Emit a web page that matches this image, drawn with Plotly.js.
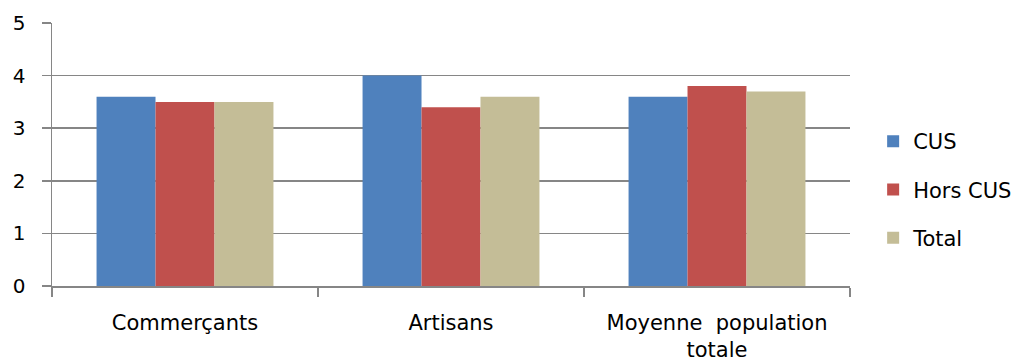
<!DOCTYPE html>
<html>
<head>
<meta charset="utf-8">
<script src="https://cdn.plot.ly/plotly-3.0.1.min.js"></script>
<style>
  html, body { margin: 0; padding: 0; background: #fff; }
  #chart { width: 1014px; height: 361px; }
</style>
</head>
<body>
<div id="chart"></div>
<script>
// Categories and series values
const categories = ["Commerçants", "Artisans", "Moyenne\u00a0\u00a0population<br>totale"];
const seriesNames = ["CUS", "Hors CUS", "Total"];
const cusValues = [3.6, 4.0, 3.6];
const horsCusValues = [3.5, 3.4, 3.8];
const totalValues = [3.5, 3.6, 3.7];
const yTickValues = [0, 1, 2, 3, 4, 5];

const colors = ["#4F81BD", "#C0504D", "#C4BD97"];
const values = [cusValues, horsCusValues, totalValues];
const font = "DejaVu Sans, sans-serif";
const gray = "#868686";

const traces = seriesNames.map((name, i) => ({
  type: "bar",
  name: name,
  x: categories,
  y: values[i],
  legendgroup: name,
  marker: { color: colors[i], line: { width: 0 } },
  hoverinfo: "x+y+name"
}));

const layout = {
  width: 1014,
  height: 361,
  margin: { l: 52, r: 164, t: 23, b: 75, autoexpand: false },
  paper_bgcolor: "#ffffff",
  plot_bgcolor: "#ffffff",
  barmode: "group",
  bargap: 0.335,
  bargroupgap: 0,
  font: { family: font, color: "#000000", size: 21 },
  showlegend: true,
  legend: {
    x: 1.029, xanchor: "left",
    y: 0.367, yanchor: "middle",
    font: { family: font, size: 21, color: "#000" },
    tracegroupgap: 18,
    itemclick: false
  },
  xaxis: {
    type: "category",
    showline: true, linecolor: gray, linewidth: 1.5,
    ticks: "outside", tickson: "boundaries", ticklen: 9, tickcolor: gray, tickwidth: 1.5,
    tickfont: { family: font, size: 21, color: "#000" },
    ticklabelstandoff: 17,
    showgrid: false, zeroline: false,
    fixedrange: true
  },
  yaxis: {
    range: [0, 5],
    tickvals: yTickValues,
    ticktext: yTickValues.map(String),
    showline: true, linecolor: gray, linewidth: 1.5,
    ticks: "outside", ticklen: 9, tickcolor: gray, tickwidth: 1.5,
    showgrid: true, gridcolor: gray, gridwidth: 1.5,
    zeroline: false,
    tickfont: { family: font, size: 20, color: "#000" },
    ticklabelstandoff: 12,
    fixedrange: true
  }
};

Plotly.newPlot("chart", traces, layout, { displayModeBar: false, staticPlot: true });
</script>
</body>
</html>
